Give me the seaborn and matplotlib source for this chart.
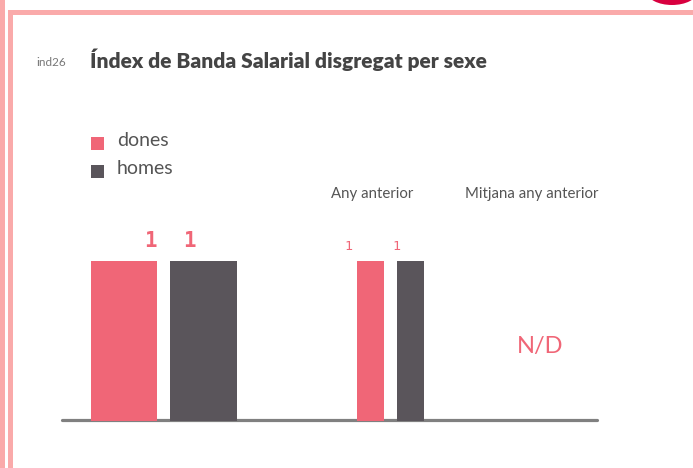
import matplotlib
matplotlib.use("Agg")
import matplotlib.pyplot as plt
from matplotlib.lines import Line2D
from matplotlib.patches import Rectangle, Ellipse
import seaborn as sns
import pandas as pd

# ---- data ----
sexes = ["dones", "homes"]
valors_actual = [1, 1]
valors_anterior = [1, 1]
mitjana_anterior = "N/D"
codi = "ind26"
titol = "Índex de Banda Salarial disgregat per sexe"
etiqueta_anterior = "Any anterior"
etiqueta_mitjana = "Mitjana any anterior"

PINK = "#F06677"
DARK = "#5A555B"
TXT = "#555555"
colors = [PINK, DARK]
palette = dict(zip(sexes, colors))

sns.set_theme(style="white")
plt.rcParams["font.family"] = ["Lato", "DejaVu Sans"]

W, H = 693, 468
fig = plt.figure(figsize=(W / 100, H / 100), dpi=100)
fig.patch.set_facecolor("white")


def fx(px):
    return px / W


def fy(py):
    return 1 - py / H


# decorative borders
fig.add_artist(Rectangle((fx(0), fy(468)), fx(5), 1, color="#FAAAAA", lw=0, transform=fig.transFigure))
fig.add_artist(Rectangle((fx(8), fy(468)), fx(5), fy(10) - fy(468), color="#FAAAAA", lw=0, transform=fig.transFigure))
fig.add_artist(Rectangle((fx(8), fy(15)), 1, fy(10) - fy(15), color="#FAAAAA", lw=0, transform=fig.transFigure))
fig.add_artist(Ellipse((fx(672), fy(-8)), fx(50), 26 / H, color="#D8003F", lw=0, transform=fig.transFigure))

# title
fig.text(fx(36), fy(62), codi, fontsize=8.5, color="#777777", va="center", ha="left")
fig.text(fx(90), fy(60), titol, fontsize=15, fontweight="heavy", color="#444444", va="center", ha="left")

# legend
for i, (s, c) in enumerate(zip(sexes, colors)):
    yc = 143 + i * 28
    fig.add_artist(Rectangle((fx(91), fy(yc + 6.5)), fx(13), 13 / H, color=c, lw=0, transform=fig.transFigure))
    fig.text(fx(117), fy(yc - 2.5), s, fontsize=14, color=TXT, va="center", ha="left")

# common y scale: bottom at py=421, value 1 -> 160px
y_bottom = 421
y_top = 100
px_per_unit = 160.0
ylim_top = (y_bottom - y_top) / px_per_unit

# ---- current year axes ----
x0, x1 = 62, 300
c0, spacing = 124.0, 79.5
ax1 = fig.add_axes([fx(x0), fy(y_bottom), fx(x1 - x0), (y_bottom - y_top) / H])
df1 = pd.DataFrame({"sexe": sexes, "valor": valors_actual})
sns.barplot(data=df1, x="sexe", y="valor", hue="sexe", palette=palette, dodge=False,
            width=0.84, ax=ax1, legend=False, saturation=1, linewidth=0, edgecolor="none")
ax1.set_xlim((x0 - c0) / spacing, (x1 - c0) / spacing)
ax1.set_ylim(0, ylim_top)
label_dx1 = [0.33, -0.18]
for i, v in enumerate(valors_actual):
    ax1.text(i + label_dx1[i], v + 20 / px_per_unit, f"{v}", ha="center", va="center", fontsize=15,
             fontweight="bold", color=PINK, family=["DejaVu Sans Mono"])

# ---- previous year axes ----
x0b, x1b = 300, 450
c0b, spacingb = 370.5, 40.0
ax2 = fig.add_axes([fx(x0b), fy(y_bottom), fx(x1b - x0b), (y_bottom - y_top) / H])
df2 = pd.DataFrame({"sexe": sexes, "valor": valors_anterior})
sns.barplot(data=df2, x="sexe", y="valor", hue="sexe", palette=palette, dodge=False,
            width=0.675, ax=ax2, legend=False, saturation=1, linewidth=0, edgecolor="none")
ax2.set_xlim((x0b - c0b) / spacingb, (x1b - c0b) / spacingb)
ax2.set_ylim(0, ylim_top)
label_dx2 = [-0.55, -0.35]
for i, v in enumerate(valors_anterior):
    ax2.text(i + label_dx2[i], v + 15 / px_per_unit, f"{v}", ha="center", va="center", fontsize=9.5,
             color=PINK, family=["DejaVu Sans Mono"])

for ax in (ax1, ax2):
    ax.set_axis_off()
    ax.patch.set_alpha(0)

fig.text(fx(372), fy(194), etiqueta_anterior, fontsize=10.8, color=TXT, ha="center", va="center")
fig.text(fx(532), fy(194), etiqueta_mitjana, fontsize=10.8, color=TXT, ha="center", va="center")
fig.text(fx(540), fy(346), mitjana_anterior, fontsize=17, color=PINK, ha="center", va="center")

# baseline
fig.add_artist(Line2D([fx(62), fx(597)], [fy(419.5), fy(419.5)], color="#808080", lw=2.3,
                      transform=fig.transFigure, zorder=0))

fig.savefig("out.png", dpi=100)
